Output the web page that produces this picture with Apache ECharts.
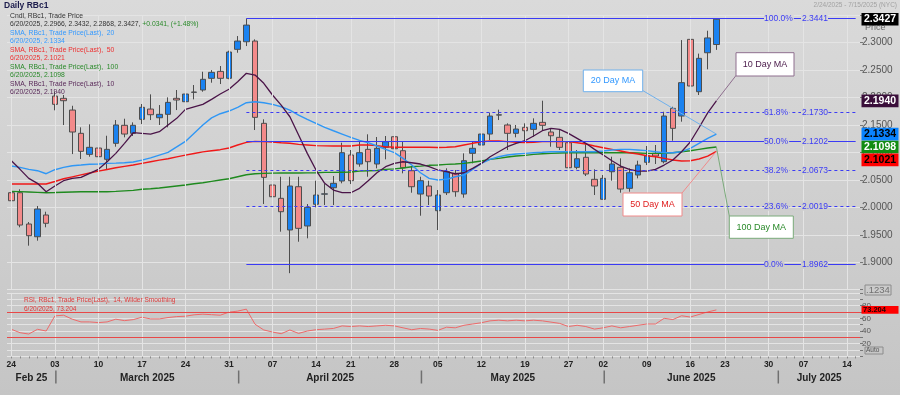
<!DOCTYPE html>
<html><head><meta charset="utf-8">
<script src="https://cdn.jsdelivr.net/npm/echarts@6/dist/echarts.min.js"></script>
<style>
html,body{margin:0;padding:0;}
body{width:900px;height:395px;overflow:hidden;background:linear-gradient(#dadada,#c5c5c5);}
#c{width:900px;height:395px;}
</style></head><body><div id="c"></div>
<script>
// ---------- DATA ----------
const dates = [
 '02-24','02-25','02-26','02-27','02-28',
 '03-03','03-04','03-05','03-06','03-07','03-10','03-11','03-12','03-13','03-14','03-17','03-18','03-19','03-20','03-21','03-24','03-25','03-26','03-27','03-28','03-31',
 '04-01','04-02','04-03','04-04','04-07','04-08','04-09','04-10','04-11','04-14','04-15','04-16','04-17','04-21','04-22','04-23','04-24','04-25','04-28','04-29','04-30',
 '05-01','05-02','05-05','05-06','05-07','05-08','05-09','05-12','05-13','05-14','05-15','05-16','05-19','05-20','05-21','05-22','05-23','05-27','05-28','05-29','05-30',
 '06-02','06-03','06-04','06-05','06-06','06-09','06-10','06-11','06-12','06-13','06-16','06-17','06-18','06-20',
 '06-23','06-24','06-25','06-26','06-27','06-30',
 '07-01','07-02','07-03','07-07','07-08','07-09','07-10','07-11','07-14','07-15'
];
const opens = [2.0266,2.0266,1.9696,1.9464,1.9860,
 2.2027,2.1986,2.1772,2.1348,2.0965,2.1080,2.0874,2.1166,2.1494,2.1348,2.1603,2.1790,2.1632,2.1694,2.1986,2.1924,2.2095,2.2137,2.2350,2.2477,2.2350,
 2.2878,2.3016,2.3029,2.1530,2.0406,2.0164,1.9587,2.0375,1.9660,2.0055,2.0240,2.0357,2.0479,2.0953,2.0789,2.1056,2.0789,2.1093,2.1286,2.1031,2.0667,
 2.0242,2.0388,1.9938,2.0266,2.0619,2.0242,2.0983,2.1135,2.1335,2.1680,2.1500,2.1348,2.1457,2.1420,2.1548,2.1372,2.1275,2.1177,2.0728,2.0911,2.0510,
 2.0146,2.0648,2.0729,2.0346,2.0588,2.0820,2.0983,2.0831,2.1803,2.1663,2.3060,2.2106,2.2816,2.2966];
const closes = [2.0120,1.9677,1.9483,1.9969,1.9709,
 2.1876,2.1942,2.1372,2.1020,2.1093,2.0922,2.1056,2.1500,2.1335,2.1494,2.1822,2.1687,2.1694,2.1912,2.1955,2.2064,2.2100,2.2332,2.2459,2.2350,2.2829,
 2.3029,2.3320,2.1639,2.0546,2.0193,1.9920,2.0388,1.9617,2.0000,2.0224,2.0245,2.0437,2.0995,2.0485,2.0995,2.0831,2.1075,2.1195,2.1067,2.0721,2.0375,
 2.0485,2.0206,2.0224,2.0650,2.0284,2.0849,2.1075,2.1335,2.1663,2.1685,2.1348,2.1426,2.1395,2.1530,2.1494,2.1304,2.1093,2.0721,2.0885,2.0607,2.0388,
 2.0528,2.0789,2.0333,2.0630,2.0770,2.0940,2.0934,2.1663,2.1439,2.2271,2.2210,2.2714,2.3086,2.3427];
const lows = [2.0042,1.9636,1.9301,1.9392,1.9636,
 2.1767,2.1499,2.0970,2.0880,2.0922,2.0850,2.0692,2.1104,2.1275,2.1299,2.1517,2.1590,2.1500,2.1457,2.1772,2.1785,2.1967,2.2106,2.2270,2.2246,2.2333,
 2.2816,2.2938,2.1408,2.0060,1.9787,1.9556,1.8800,1.9373,1.9435,1.9999,2.0042,2.0042,2.0437,2.0424,2.0740,2.0557,2.0710,2.0874,2.0874,2.0619,2.0266,
 1.9847,2.0042,1.9586,2.0224,2.0193,2.0175,2.0800,2.1117,2.1226,2.1590,2.1044,2.1275,2.1213,2.1286,2.1395,2.1104,2.1044,2.0692,2.0692,2.0570,2.0224,
 2.0146,2.0485,2.0266,2.0284,2.0528,2.0770,2.0789,2.0800,2.1213,2.1560,2.1950,2.2046,2.2514,2.2868];
const highs = [2.0375,2.0328,1.9732,2.0024,1.9920,
 2.2106,2.2046,2.1850,2.1457,2.1512,2.1330,2.1304,2.1590,2.1614,2.1548,2.1882,2.2058,2.1863,2.2003,2.2137,2.2137,2.2228,2.2470,2.2500,2.2574,2.2853,
 2.3120,2.3441,2.3060,2.1603,2.0576,2.0557,2.0557,2.0557,2.0060,2.0485,2.0424,2.0570,2.1177,2.1044,2.1195,2.1330,2.1281,2.1299,2.1335,2.1195,2.0740,
 2.0557,2.0485,2.0315,2.0711,2.0680,2.0983,2.1195,2.1682,2.1724,2.1779,2.1530,2.1500,2.1530,2.1621,2.1942,2.1437,2.1408,2.1238,2.1044,2.1166,2.0692,
 2.0588,2.0922,2.0892,2.0710,2.0849,2.1117,2.1135,2.1741,2.1832,2.3047,2.3170,2.2800,2.3217,2.3432];
const sma10 = [2.0849,2.0692,2.0528,2.0437,2.0284,
 2.0388,2.0485,2.0528,2.0546,2.0619,2.0692,2.0830,2.0983,2.1166,2.1359,2.1348,2.1335,2.1377,2.1500,2.1621,2.1785,2.1832,2.1876,2.1967,2.2064,2.2150,
 2.2288,2.2441,2.2410,2.2259,2.2046,2.1863,2.1650,2.1317,2.0983,2.0679,2.0437,2.0315,2.0266,2.0266,2.0346,2.0485,2.0630,2.0740,2.0800,2.0830,2.0812,
 2.0789,2.0740,2.0680,2.0649,2.0607,2.0630,2.0710,2.0800,2.0922,2.1013,2.1104,2.1166,2.1213,2.1299,2.1395,2.1439,2.1420,2.1348,2.1257,2.1166,2.1056,
 2.0953,2.0849,2.0752,2.0692,2.0661,2.0661,2.0692,2.0770,2.0862,2.1013,2.1190,2.1450,2.1720,2.1940];
const sma20 = [2.0752,2.0728,2.0692,2.0667,2.0612,
 2.0685,2.0728,2.0758,2.0770,2.0785,2.0789,2.0800,2.0805,2.0812,2.0825,2.0860,2.0900,2.0950,2.1000,2.1100,2.1200,2.1350,2.1500,2.1630,2.1705,2.1754,
 2.1822,2.1906,2.1924,2.1906,2.1876,2.1832,2.1772,2.1680,2.1603,2.1530,2.1457,2.1395,2.1335,2.1275,2.1220,2.1177,2.1117,2.1056,2.0995,2.0892,2.0770,
 2.0630,2.0528,2.0497,2.0510,2.0557,2.0588,2.0692,2.0800,2.0874,2.0922,2.0953,2.0971,2.0983,2.0995,2.1002,2.1013,2.1013,2.1013,2.1013,2.1013,2.1013,
 2.1026,2.1044,2.1056,2.1056,2.1044,2.1032,2.1013,2.0995,2.0995,2.1013,2.1075,2.1166,2.1257,2.1334];
const sma50 = [2.0424,2.0424,2.0424,2.0424,2.0424,
 2.0470,2.0520,2.0555,2.0590,2.0625,2.0660,2.0690,2.0720,2.0745,2.0770,2.0800,2.0830,2.0860,2.0885,2.0920,2.0950,2.0980,2.1010,2.1030,2.1050,2.1080,
 2.1135,2.1184,2.1202,2.1196,2.1190,2.1177,2.1166,2.1147,2.1135,2.1123,2.1120,2.1117,2.1117,2.1117,2.1135,2.1135,2.1123,2.1104,2.1093,2.1093,2.1093,
 2.1093,2.1093,2.1090,2.1093,2.1104,2.1135,2.1166,2.1195,2.1208,2.1208,2.1196,2.1184,2.1180,2.1184,2.1196,2.1196,2.1196,2.1196,2.1177,2.1153,2.1117,
 2.1086,2.1056,2.1026,2.0995,2.0971,2.0940,2.0922,2.0892,2.0862,2.0843,2.0849,2.0880,2.0934,2.1021];
const sma100 = [2.0290,2.0286,2.0280,2.0273,2.0266,
 2.0270,2.0275,2.0280,2.0284,2.0284,2.0284,2.0284,2.0291,2.0300,2.0309,2.0328,2.0339,2.0352,2.0370,2.0388,2.0406,2.0430,2.0448,2.0473,2.0497,2.0520,
 2.0557,2.0594,2.0612,2.0619,2.0622,2.0625,2.0625,2.0625,2.0628,2.0630,2.0637,2.0637,2.0640,2.0643,2.0660,2.0667,2.0670,2.0692,2.0700,2.0716,2.0740,
 2.0750,2.0765,2.0770,2.0783,2.0790,2.0800,2.0820,2.0843,2.0874,2.0892,2.0916,2.0934,2.0947,2.0965,2.0977,2.0983,2.0989,2.0995,2.0995,2.0995,2.0995,
 2.0995,2.0995,2.0995,2.0995,2.0990,2.0983,2.0983,2.0983,2.0995,2.1013,2.1031,2.1056,2.1080,2.1098];
const rsi14 = [42.7,37.3,35.2,42.7,40.0,
 63.8,64.9,58.6,54.3,54.3,53.2,54.3,58.6,56.3,57.9,61.7,59.0,59.0,61.2,62.7,63.3,65.5,66.5,65.7,64.9,69.7,
 71.3,74.4,50.6,41.6,38.4,35.7,41.6,36.2,40.0,42.0,43.0,44.0,48.0,47.0,48.0,47.0,48.0,49.0,48.0,45.0,42.0,
 44.0,43.0,41.0,46.0,45.0,49.0,51.0,53.0,56.0,57.0,56.0,57.0,56.0,57.0,56.0,54.0,52.0,47.0,49.0,47.0,43.0,
 45.0,48.0,45.0,47.0,49.0,51.0,51.0,60.0,58.0,64.0,62.0,66.0,70.0,73.204];
const fibPct = ['0.0%','23.6%','38.2%','50.0%','61.8%','100.0%'];
const fibVal = [1.8962,2.0019,2.0673,2.1202,2.1730,2.3441];
const fibStart = '04-02';
const weekStarts = ['02-24','03-03','03-10','03-17','03-24','03-31','04-07','04-14','04-21','04-28','05-05','05-12','05-19','05-27','06-02','06-09','06-16','06-23','06-30','07-07','07-14'];
const monthKeys = ['02','03','04','05','06','07'];
const monthNames = ['Feb 25','March 2025','April 2025','May 2025','June 2025','July 2025'];
const priceTicks = {min:1.85, max:2.35, step:0.05, firstLabel:1.90, lastLabel:2.30};
const rsiLevels = [70, 30];
const rsiLabels = [20, 40, 60, 80];
const lastDate = '6/20/2025';

// ---------- CHART ----------
const F = 'Liberation Sans, Arial, sans-serif';
const N = closes.length, L = N - 1;
const candleData = opens.map((o, i) => [o, closes[i], lows[i], highs[i]]);
const chart = echarts.init(document.getElementById('c'), null, {renderer: 'canvas'});
const bgAt = y => { const v = Math.round(0xda + (0xc5 - 0xda) * y / 395); return 'rgb(' + v + ',' + v + ',' + v + ')'; };
const gridLine = '#e4e4e4';
const fibColor = '#3b3bf5';
const LF = 6.8; // legend font size

const option = {
  animation: false,
  backgroundColor: 'transparent',
  grid: [
    {left: 7, right: 40, top: 15.2, height: 274.45},
    {left: 7, right: 40, top: 292.9, height: 63.5}
  ],
  xAxis: [
    {type: 'category', gridIndex: 0, data: dates, boundaryGap: true,
     axisLine: {show: false}, axisTick: {show: false}, axisLabel: {show: false}, splitLine: {show: false}},
    {type: 'category', gridIndex: 1, data: dates, boundaryGap: true,
     axisLine: {show: false},
     axisTick: {show: true, interval: 0, alignWithLabel: true, length: 2, lineStyle: {color: '#8a8a8a'}},
     axisLabel: {interval: (i, v) => weekStarts.includes(v), formatter: v => v.slice(3),
       color: '#222', fontWeight: 'bold', fontSize: 8.5, fontFamily: F, margin: 4},
     splitLine: {show: false}}
  ],
  yAxis: [
    {type: 'value', gridIndex: 0, position: 'right', min: priceTicks.min, max: priceTicks.max, interval: priceTicks.step,
     axisLine: {show: false}, axisTick: {show: true, length: 3, lineStyle: {color: '#777'}},
     axisLabel: {formatter: v => (v >= priceTicks.firstLabel - 1e-6 && v <= priceTicks.lastLabel + 1e-6) ? v.toFixed(4) : '',
       color: '#555', fontSize: 10, fontFamily: F, margin: 2},
     splitLine: {lineStyle: {color: gridLine, width: 1}}},
    {type: 'value', gridIndex: 1, position: 'right', min: 0, max: 100, interval: 10,
     axisLine: {show: false}, axisTick: {show: true, length: 3, lineStyle: {color: '#777'}},
     axisLabel: {formatter: v => (rsiLabels.includes(v) ? String(v) : ''), color: '#555', fontSize: 8, fontFamily: F, margin: 2},
     splitLine: {lineStyle: {color: gridLine, width: 1}}}
  ],
  series: [
    {name: 'weeksMain', type: 'line', xAxisIndex: 0, yAxisIndex: 0, data: [], z: 1, silent: true,
     markLine: {silent: true, symbol: 'none', label: {show: false}, animation: false,
       lineStyle: {color: gridLine, width: 1, type: 'solid'},
       data: weekStarts.map(d => ({xAxis: d}))}},
    {name: 'weeksRsi', type: 'line', xAxisIndex: 1, yAxisIndex: 1, data: [], z: 1, silent: true,
     markLine: {silent: true, symbol: 'none', label: {show: false}, animation: false,
       lineStyle: {color: gridLine, width: 1, type: 'solid'},
       data: weekStarts.map(d => ({xAxis: d}))}},
    {name: 'fib', type: 'line', xAxisIndex: 0, yAxisIndex: 0, data: [], z: 2, silent: true,
     markLine: {silent: true, symbol: 'none', label: {show: false}, animation: false,
       data: fibVal.map((v, k) => [
         {coord: [fibStart, v], lineStyle: {color: fibColor, width: 1, type: (k === 0 || k === 3 || k === 5) ? 'solid' : [3, 3]}},
         {coord: [dates[dates.length - 1], v]}
       ])}},
    {name: 'Cndl', type: 'candlestick', xAxisIndex: 0, yAxisIndex: 0, data: candleData, barWidth: 6, z: 3,
     itemStyle: {color: '#1a82f0', color0: '#f38a8a', borderColor: '#4d4d4d', borderColor0: '#4d4d4d', borderWidth: 1}},
    {name: 'SMA100', type: 'line', xAxisIndex: 0, yAxisIndex: 0, data: sma100, symbol: 'none', z: 4,
     lineStyle: {color: '#1f8a1f', width: 1.4}},
    {name: 'SMA50', type: 'line', xAxisIndex: 0, yAxisIndex: 0, data: sma50, symbol: 'none', z: 4,
     lineStyle: {color: '#f01818', width: 1.4}},
    {name: 'SMA20', type: 'line', xAxisIndex: 0, yAxisIndex: 0, data: sma20, symbol: 'none', z: 4,
     lineStyle: {color: '#2f97f5', width: 1.4}},
    {name: 'SMA10', type: 'line', xAxisIndex: 0, yAxisIndex: 0, data: sma10, symbol: 'none', z: 4,
     lineStyle: {color: '#4a1448', width: 1.3}},
    {name: 'RSI', type: 'line', xAxisIndex: 1, yAxisIndex: 1, data: rsi14, symbol: 'none', z: 4,
     lineStyle: {color: '#ec6a6a', width: 1},
     markLine: {silent: true, symbol: 'none', label: {show: false}, animation: false,
       lineStyle: {color: '#e84848', width: 1.2, type: 'solid'},
       data: rsiLevels.map(v => ({yAxis: v}))}}
  ]
};
chart.setOption(option);

// ---------- ANNOTATIONS ----------
const px = (i, v) => chart.convertToPixel({xAxisIndex: 0, yAxisIndex: 0}, [dates[i], v]);
const pxR = (i, v) => chart.convertToPixel({xAxisIndex: 1, yAxisIndex: 1}, [dates[i], v]);
const G = [];
const txt = (x, y, text, fill, size, opts, z) => G.push({type: 'text', z: z || 50, silent: true,
  style: Object.assign({x: x, y: y, text: text, fill: fill, fontSize: size, fontFamily: F, align: 'left', verticalAlign: 'middle'}, opts || {})});
const line = (x1, y1, x2, y2, stroke, w) => G.push({type: 'line', z: 45, silent: true,
  shape: {x1: x1, y1: y1, x2: x2, y2: y2}, style: {stroke: stroke, lineWidth: w || 1}});
const rect = (x, y, w, h, fill, stroke, z) => G.push({type: 'rect', z: z || 48, silent: true,
  shape: {x: x, y: y, width: w, height: h}, style: {fill: fill, stroke: stroke || null, lineWidth: 1}});

// title + range
txt(4, 6, 'Daily RBc1', '#1c1c4c', 8.5, {fontWeight: 'bold'});
txt(897, 5, '2/24/2025 - 7/15/2025 (NYC)', '#a2a2a2', 6.5, {align: 'right'});
txt(865, 28, 'Price', '#6a6a6a', 9);

// legend
const chg = closes[L] - closes[L - 1];
const pct = chg / closes[L - 1] * 100;
const lg = [
  ['Cndl, RBc1, Trade Price', '#333'],
  null,
  ['SMA, RBc1, Trade Price(Last),  20', '#3399ff'], [lastDate + ', ' + sma20[L].toFixed(4), '#3399ff'],
  ['SMA, RBc1, Trade Price(Last),  50', '#ee3030'], [lastDate + ', ' + sma50[L].toFixed(4), '#ee3030'],
  ['SMA, RBc1, Trade Price(Last),  100', '#2a8a2a'], [lastDate + ', ' + sma100[L].toFixed(4), '#2a8a2a'],
  ['SMA, RBc1, Trade Price(Last),  10', '#5a2a5a'], [lastDate + ', ' + sma10[L].toFixed(4), '#5a2a5a']
];
lg.forEach((e, k) => {
  const y = 16 + k * 8.5;
  if (e) { txt(10, y, e[0], e[1], LF); return; }
  G.push({type: 'text', z: 50, silent: true, style: {x: 10, y: y, verticalAlign: 'middle', fontSize: LF, fontFamily: F,
    text: '{a|' + lastDate + ', ' + [opens[L], highs[L], lows[L], closes[L]].map(v => v.toFixed(4)).join(', ') + ', }{g|' +
      (chg >= 0 ? '+' : '') + chg.toFixed(4) + ', (' + (pct >= 0 ? '+' : '') + pct.toFixed(2) + '%)}',
    rich: {a: {fill: '#333', fontSize: LF, fontFamily: F}, g: {fill: '#2a8a2a', fontSize: LF, fontFamily: F}}}});
});

// fib labels
fibVal.forEach((v, k) => {
  const y = px(0, v)[1];
  txt(764, y, fibPct[k], fibColor, 8.5, {backgroundColor: bgAt(y), padding: [0, 1, 0, 0]});
  txt(828, y, v.toFixed(4), fibColor, 8.5, {align: 'right', backgroundColor: bgAt(y), padding: [0, 0, 0, 1]});
});

// right-axis value boxes (collision resolved downward)
const boxes = [
  {v: closes[L], bg: '#000000', fg: '#ffffff'},
  {v: sma10[L], bg: '#3a0e3a', fg: '#ffffff'},
  {v: sma20[L], bg: '#0a84ff', fg: '#000000'},
  {v: sma100[L], bg: '#128c12', fg: '#ffffff'},
  {v: sma50[L], bg: '#ff0000', fg: '#000000'}
].map(b => Object.assign(b, {y: px(0, b.v)[1]})).sort((a, b) => a.y - b.y);
for (let k = 1; k < boxes.length; k++) boxes[k].y = Math.max(boxes[k].y, boxes[k - 1].y + 12.8);
boxes.forEach(b => {
  rect(861.5, b.y - 6.3, 37, 12.6, b.bg, null, 55);
  txt(880, b.y, b.v.toFixed(4), b.fg, 10.5, {fontWeight: 'bold', align: 'center'}, 56);
});

// callouts
const endPt = arr => px(L, arr[L]);
const callouts = [
  {t: '20 Day MA', arr: sma20, box: [583.3, 70, 59.4, 21.7], from: [642.7, 90.5], fg: '#3399ff', bd: '#6fb0ec'},
  {t: '10 Day MA', arr: sma10, box: [736, 52.7, 58, 23.3], from: [736, 75.5], fg: '#4a1a4a', bd: '#8e6e8e'},
  {t: '50 Day MA', arr: sma50, box: [623, 193, 59, 23], from: [682, 193], fg: '#e02020', bd: '#f08a8a'},
  {t: '100 Day MA', arr: sma100, box: [729.3, 216, 64, 22.3], from: [729.3, 216], fg: '#2a8a2a', bd: '#7aaa7a'}
];
callouts.forEach(c => {
  const e = endPt(c.arr);
  line(c.from[0], c.from[1], e[0], e[1], c.bd, 1);
  rect(c.box[0], c.box[1], c.box[2], c.box[3], '#ffffff', c.bd, 48);
  txt(c.box[0] + c.box[2] / 2, c.box[1] + c.box[3] / 2, c.t, c.fg, 9, {align: 'center'}, 50);
});

// RSI legend & box
txt(24, 300.7, 'RSI, RBc1, Trade Price(Last),  14, Wilder Smoothing', '#e03a3a', 6.5);
txt(24, 309.3, lastDate + ', ' + rsi14[L].toFixed(3), '#e03a3a', 6.5);
const ry = pxR(L, rsi14[L])[1];
rect(861.5, ry - 3.8, 37, 7.6, '#ff0000', null, 55);
txt(863, ry, rsi14[L].toFixed(3), '#200000', 7.5, {fontWeight: 'bold'}, 56);

// scale decorations
rect(865, 285, 26, 10, bgAt(290), '#8c8c8c', 55);
txt(866, 290.2, '.1234', '#707070', 9.5, null, 57);
rect(865, 347, 18, 7, bgAt(350), '#8c8c8c', 55);
txt(866, 350.6, 'Auto', '#555', 6.5, null, 57);

// months
const firstIdx = monthKeys.map(m => dates.findIndex(d => d.startsWith(m + '-')));
const sepX = firstIdx.map(i => px(i, 2)[0] + 1);
monthNames.forEach((nm, k) => {
  const left = k === 0 ? 7 : sepX[k];
  const right = k === monthNames.length - 1 ? 860 : sepX[k + 1];
  if (k > 0) rect(sepX[k] - 0.75, 370.5, 1.5, 13, '#707070', null, 50);
  txt((left + right) / 2, 378, nm, '#222', 10, {fontWeight: 'bold', align: 'center'}, 50);
});

chart.setOption({graphic: G});
</script>
</body></html>
